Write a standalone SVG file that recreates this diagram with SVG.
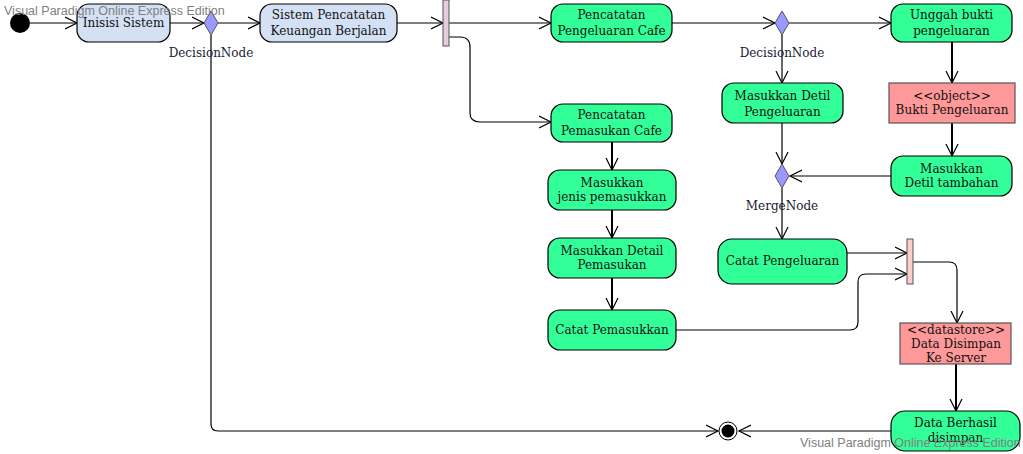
<svg xmlns="http://www.w3.org/2000/svg" width="1023" height="454" viewBox="0 0 1023 454">
<defs>
<marker id="arr" markerUnits="userSpaceOnUse" markerWidth="14" markerHeight="14" refX="12" refY="7" orient="auto">
<path d="M0,1 L12,7 L0,13" fill="none" stroke="#000" stroke-width="1.2"/>
</marker>
<style>
text{font-family:"DejaVu Serif","Liberation Serif",serif;font-size:12px;fill:#111;text-anchor:middle}
.act{fill:#33ff99;stroke:#000;stroke-width:1.2}
.blue{fill:#d4e1f5;stroke:#000;stroke-width:1.2}
.obj{fill:#ff9999;stroke:#555;stroke-width:1.2}
.dia{fill:#9999ff;stroke:#555;stroke-width:1}
.c{fill:none;stroke:#000;stroke-width:1.2;marker-end:url(#arr)}
.t{stroke-width:2}
.wm{font-family:"Liberation Sans","DejaVu Sans",sans-serif;font-size:12.5px;fill:#808080;text-anchor:start}
.lbl{fill:#1a1a33}
</style>
</defs>
<rect width="1023" height="454" fill="#fff"/>
<g id="connectors">
<path class="c" d="M30,23 H77"/>
<path class="c" d="M170,23 H204"/>
<path class="c" d="M218,23 H260"/>
<path class="c" d="M397,23 H443"/>
<path class="c" d="M449,23 H551"/>
<path class="c" d="M449,37 H460 Q470,37 470,47 V113 Q470,122 480,122 H551"/>
<path class="c" d="M672,23 H775"/>
<path class="c" d="M789,23 H891"/>
<path class="c" d="M782,35 V83"/>
<path class="c t" d="M952,42 V83"/>
<path class="c t" d="M952,123 V156"/>
<path class="c" d="M891,176 H790"/>
<path class="c" d="M782,123 V164"/>
<path class="c" d="M782,188 V239"/>
<path class="c t" d="M612,142 V170"/>
<path class="c t" d="M612,210 V238"/>
<path class="c t" d="M612,278 V310"/>
<path class="c" d="M847,253 H907"/>
<path class="c" d="M676,330 H850 Q858,330 858,322 V282 Q858,274 866,274 H907"/>
<path class="c" d="M913,262 H949 Q957,262 957,270 V323"/>
<path class="c t" d="M956,364 V411"/>
<path class="c" d="M891,431 H739"/>
<path class="c" d="M211,35 V424 Q211,431 218,431 H718"/>
</g>
<g id="start"><circle cx="20" cy="23" r="10" fill="#000"/></g>
<g id="inisisi"><rect class="blue" x="77" y="4" width="93" height="38" rx="12"/><text x="123.5" y="27">Inisisi Sistem</text></g>
<g id="decision1"><path class="dia" d="M211,11 L218,23 L211,35 L204,23 Z"/><text class="lbl" x="211" y="57">DecisionNode</text></g>
<g id="sistem"><rect class="blue" x="260" y="4" width="137" height="38" rx="12"/><text x="328.5" y="19">Sistem Pencatatan</text><text x="328.5" y="35">Keuangan Berjalan</text></g>
<g id="fork"><rect x="443" y="0" width="6" height="46" fill="#e8ccdc" stroke="#555" stroke-width="1"/></g>
<g id="pengeluaranCafe"><rect class="act" x="551" y="4" width="121" height="38" rx="12"/><text x="611.5" y="19">Pencatatan</text><text x="611.5" y="35">Pengeluaran Cafe</text></g>
<g id="pemasukanCafe"><rect class="act" x="551" y="104" width="121" height="38" rx="12"/><text x="611.5" y="119">Pencatatan</text><text x="611.5" y="135">Pemasukan Cafe</text></g>
<g id="decision2"><path class="dia" d="M782,11 L789,23 L782,35 L775,23 Z"/><text class="lbl" x="782" y="57">DecisionNode</text></g>
<g id="unggah"><rect class="act" x="891" y="4" width="121" height="38" rx="12"/><text x="951.5" y="19">Unggah bukti</text><text x="951.5" y="35">pengeluaran</text></g>
<g id="detilPengeluaran"><rect class="act" x="722" y="83" width="121" height="40" rx="12"/><text x="782.5" y="100">Masukkan Detil</text><text x="782.5" y="116">Pengeluaran</text></g>
<g id="buktiObj"><rect class="obj" x="889" y="83" width="126" height="40"/><text x="952" y="100">&lt;&lt;object&gt;&gt;</text><text x="952" y="114">Bukti Pengeluaran</text></g>
<g id="detilTambahan"><rect class="act" x="891" y="156" width="121" height="40" rx="12"/><text x="951.5" y="173">Masukkan</text><text x="951.5" y="187">Detil tambahan</text></g>
<g id="merge"><path class="dia" d="M782,164 L789,176 L782,188 L775,176 Z"/><text class="lbl" x="782" y="210">MergeNode</text></g>
<g id="catatPengeluaran"><rect class="act" x="718" y="239" width="129" height="45" rx="14"/><text x="782.5" y="265">Catat Pengeluaran</text></g>
<g id="jenisPemasukkan"><rect class="act" x="548" y="170" width="128" height="40" rx="12"/><text x="612" y="187">Masukkan</text><text x="612" y="201">jenis pemasukkan</text></g>
<g id="detailPemasukan"><rect class="act" x="548" y="238" width="128" height="40" rx="12"/><text x="612" y="255">Masukkan Detail</text><text x="612" y="269">Pemasukan</text></g>
<g id="catatPemasukkan"><rect class="act" x="548" y="310" width="128" height="40" rx="12"/><text x="612" y="334">Catat Pemasukkan</text></g>
<g id="join"><rect x="907" y="239" width="6" height="45" fill="#ffcccc" stroke="#555" stroke-width="1"/></g>
<g id="datastore"><rect class="obj" x="900" y="323" width="111" height="41"/><text x="956" y="334">&lt;&lt;datastore&gt;&gt;</text><text x="956" y="348">Data Disimpan</text><text x="956" y="362">Ke Server</text></g>
<g id="berhasil"><rect class="act" x="891" y="411" width="129" height="40" rx="14"/><text x="955.5" y="427">Data Berhasil</text><text x="955.5" y="442">disimpan</text></g>
<g id="final"><circle cx="728" cy="431" r="9" fill="#fff" stroke="#000" stroke-width="1"/><circle cx="728" cy="431" r="6.5" fill="#000"/></g>
<text class="wm" x="4" y="15">Visual Paradigm Online Express Edition</text>
<text class="wm" x="800" y="447">Visual Paradigm Online Express Edition</text>
</svg>
